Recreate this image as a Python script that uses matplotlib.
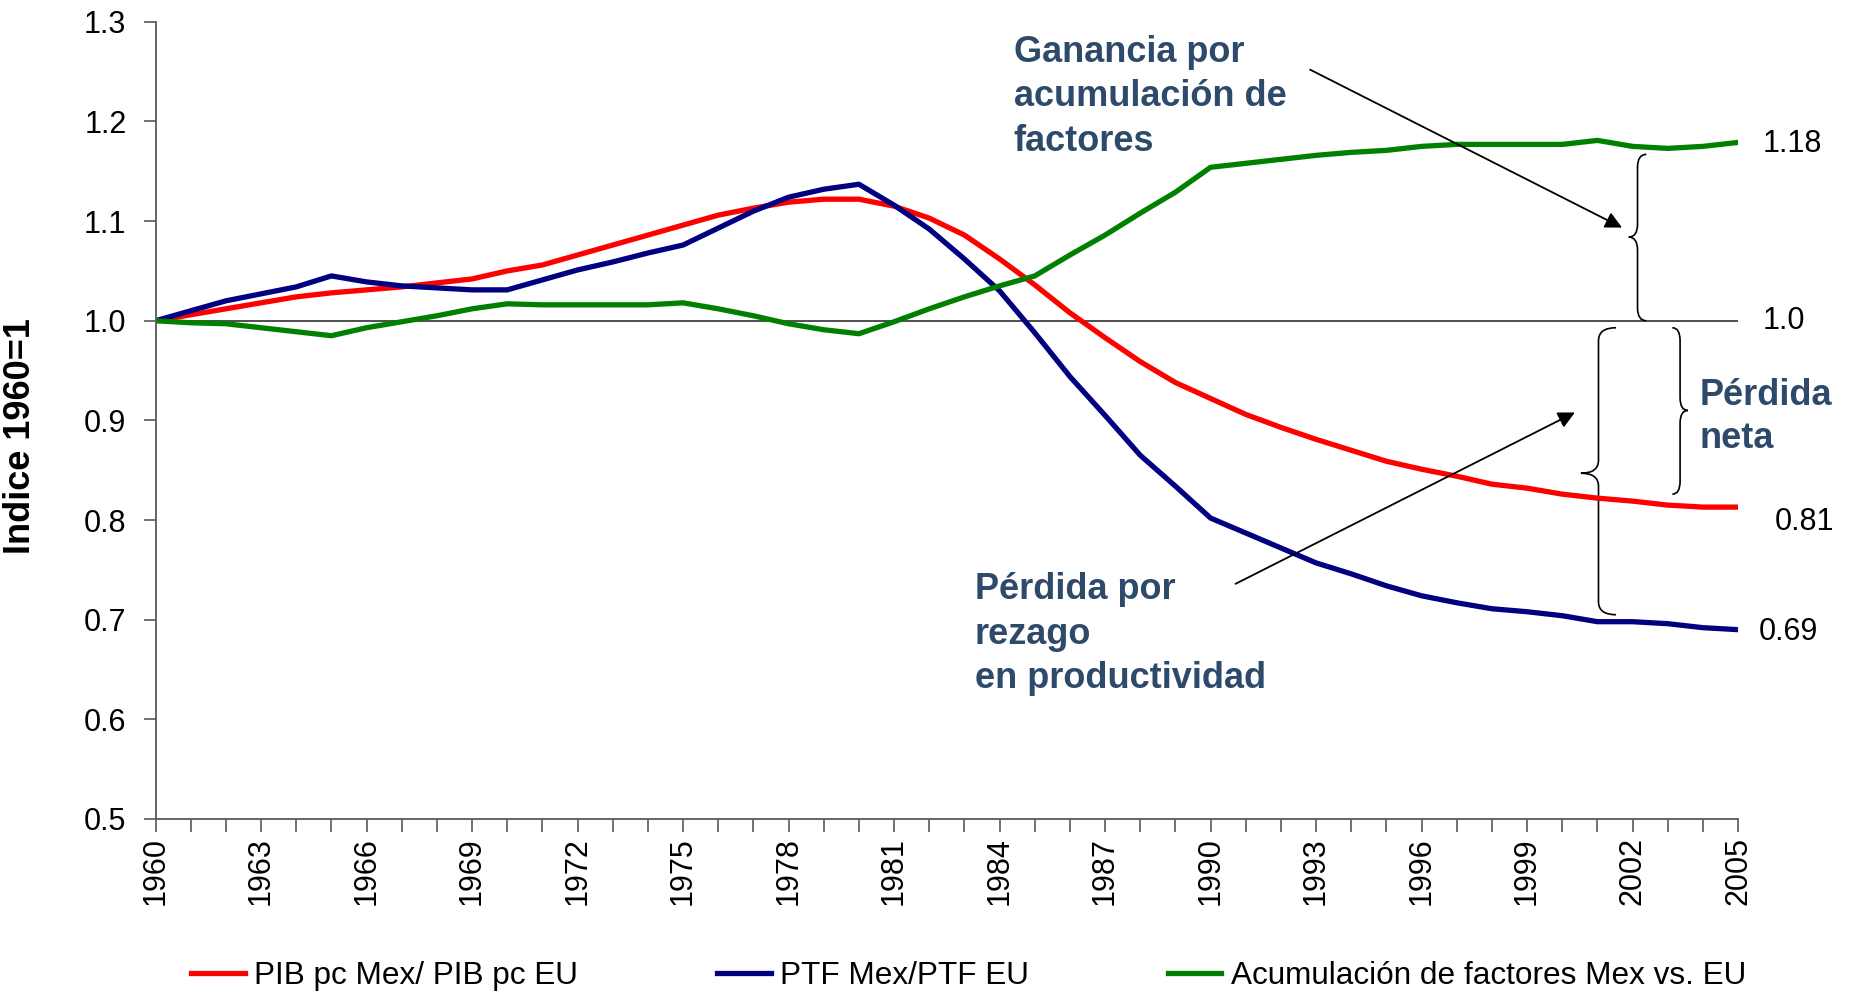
import numpy as np
import matplotlib.pyplot as plt
from matplotlib.path import Path
from matplotlib.patches import PathPatch

plt.rcParams['font.family'] = ['Liberation Sans', 'DejaVu Sans']

years = list(range(1960, 2006))

pib = [1.000, 1.006, 1.012, 1.018, 1.024, 1.028, 1.031, 1.034, 1.038, 1.042,
       1.050, 1.056, 1.066, 1.076, 1.086, 1.096, 1.106, 1.113, 1.119, 1.122,
       1.122, 1.115, 1.103, 1.086, 1.062, 1.036, 1.008, 0.983, 0.959, 0.938,
       0.922, 0.906, 0.893, 0.881, 0.870, 0.859, 0.851, 0.844, 0.836, 0.832,
       0.826, 0.822, 0.819, 0.815, 0.813, 0.813]

ptf = [1.000, 1.010, 1.020, 1.027, 1.034, 1.045, 1.039, 1.035, 1.033, 1.031,
       1.031, 1.041, 1.051, 1.059, 1.068, 1.076, 1.093, 1.110, 1.124, 1.132,
       1.137, 1.116, 1.092, 1.062, 1.030, 0.988, 0.944, 0.905, 0.865, 0.834,
       0.802, 0.787, 0.772, 0.757, 0.746, 0.734, 0.724, 0.717, 0.711, 0.708,
       0.704, 0.698, 0.698, 0.696, 0.692, 0.690]

acum = [1.000, 0.998, 0.997, 0.993, 0.989, 0.985, 0.993, 0.999, 1.005, 1.012,
        1.017, 1.016, 1.016, 1.016, 1.016, 1.018, 1.012, 1.005, 0.997, 0.991,
        0.987, 0.999, 1.012, 1.024, 1.035, 1.045, 1.066, 1.086, 1.108, 1.129,
        1.154, 1.158, 1.162, 1.166, 1.169, 1.171, 1.175, 1.177, 1.177, 1.177,
        1.177, 1.181, 1.175, 1.173, 1.175, 1.179]

labels = ['PIB pc Mex/ PIB pc EU', 'PTF Mex/PTF EU',
          'Acumulación de factores Mex vs. EU']
end_labels = ['1.18', '1.0', '0.81', '0.69']
end_pos = [1.177, 1.0, 0.798, 0.688]

note_col = '#2E4A6B'

fig = plt.figure(figsize=(18.52, 9.92), dpi=100)
ax = fig.add_axes([0.084, 0.1744, 0.8545, 0.8036])

ax.plot(years, pib, color='#FF0000', lw=3.8, label=labels[0])
ax.plot(years, ptf, color='#000080', lw=3.8, label=labels[1])
ax.plot(years, acum, color='#008000', lw=3.8, label=labels[2])
ax.plot([years[0], years[-1]], [1.0, 1.0], color='#404040', lw=1.3, zorder=1)

ax.set_xlim(1960, 2005)
ax.set_ylim(0.5, 1.3)
ax.set_yticks(np.arange(0.5, 1.31, 0.1))
ax.set_yticklabels(['%.1f' % v for v in np.arange(0.5, 1.31, 0.1)])
ax.set_xticks(years)
ax.set_xticklabels([str(y) if (y - 1960) % 3 == 0 else '' for y in years],
                   rotation=90)
ax.tick_params(axis='y', labelsize=22, length=9, width=1.2, color='#595959', pad=12)
ax.tick_params(axis='x', labelsize=22, length=9, width=1.2, color='#595959', pad=4)
for s in ['top', 'right']:
    ax.spines[s].set_visible(False)
for s in ['left', 'bottom']:
    ax.spines[s].set_color('#595959')
    ax.spines[s].set_linewidth(1.3)

ax.set_ylabel('Indice 1960=1', fontsize=26, fontweight='bold')
ax.yaxis.set_label_coords(-0.074, 0.48)

# etiquetas al final de las series
for t, v, dx in zip(end_labels, end_pos, [0.7, 0.7, 1.05, 0.6]):
    ax.text(2005 + dx, v, t, fontsize=22, va='center', ha='left', clip_on=False)

# textos
ax.text(1984.4, 1.287, 'Ganancia por\nacumulación de\nfactores', fontsize=26,
        fontweight='bold', color=note_col, va='top', ha='left', linespacing=1.36)
ax.text(1983.3, 0.748, 'Pérdida por\nrezago\nen productividad', fontsize=26,
        fontweight='bold', color=note_col, va='top', ha='left', linespacing=1.36)
ax.text(2003.9, 0.943, 'Pérdida\nneta', fontsize=26, fontweight='bold',
        color=note_col, va='top', ha='left', linespacing=1.3, clip_on=False)

ax.annotate('', xy=(2001.7, 1.0935), xytext=(1992.83, 1.252),
            arrowprops=dict(arrowstyle='-|>', color='black', lw=1.3,
                            mutation_scale=25, shrinkA=0, shrinkB=0))
ax.annotate('', xy=(2000.36, 0.908), xytext=(1990.71, 0.736),
            arrowprops=dict(arrowstyle='-|>', color='black', lw=1.3,
                            mutation_scale=25, shrinkA=0, shrinkB=0))


def brace(x, y0, y1, ytip, w, side, r=0.013):
    xe = x - side * w
    xt = x + side * w
    verts = [(xe, y1), (x, y1), (x, y1 - r), (x, ytip + r), (x, ytip), (xt, ytip),
             (x, ytip), (x, ytip - r), (x, y0 + r), (x, y0), (xe, y0)]
    codes = [Path.MOVETO, Path.CURVE3, Path.CURVE3, Path.LINETO, Path.CURVE3,
             Path.CURVE3, Path.CURVE3, Path.CURVE3, Path.LINETO, Path.CURVE3,
             Path.CURVE3]
    ax.add_patch(PathPatch(Path(verts, codes), fill=False, ec='black', lw=1.2,
                           clip_on=False))


brace(2002.14, 1.0, 1.167, 1.084, 0.25, -1)
brace(2001.03, 0.705, 0.993, 0.847, 0.5, -1)
brace(2003.35, 0.826, 0.993, 0.910, 0.22, 1)

fig.legend(loc='center', bbox_to_anchor=(0.523, 0.016), ncol=3, frameon=False,
           fontsize=22.7, handlelength=1.7, handletextpad=0.3, columnspacing=4.4,
           borderaxespad=0)

fig.savefig('out.png', dpi=100)
